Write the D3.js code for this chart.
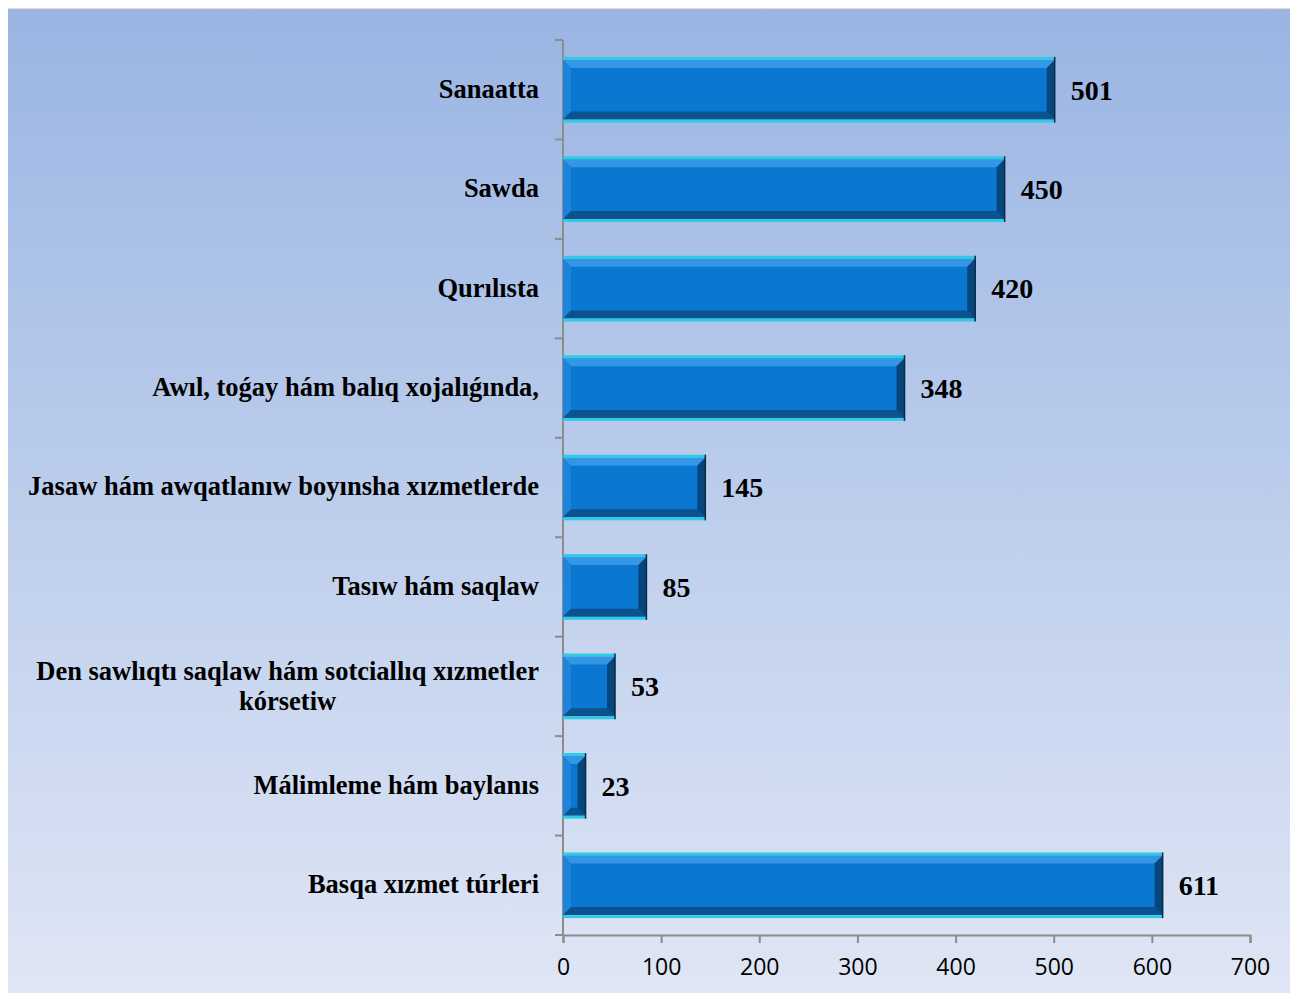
<!DOCTYPE html>
<html lang="en">
<head>
  <meta charset="utf-8">
  <title>Sectors</title>
  <script src="https://d3js.org/d3.v7.min.js"></script>
  <style>
    body { margin: 0; background: #fff; }
    .cat { font-family: "Liberation Serif", "Times New Roman", serif; font-weight: bold; font-size: 26.5px; fill: #000; }
    .val { font-family: "Liberation Serif", "Times New Roman", serif; font-weight: bold; font-size: 28px; fill: #000; }
    .tick text { font-family: "Open Sans", "DejaVu Sans", sans-serif; font-size: 23px; fill: #000; }
  </style>
</head>
<body>
  <svg width="1290" height="993"></svg>
  <script>
    var categories = [
      "Sanaatta",
      "Sawda",
      "Qurılısta",
      "Awıl, toǵay hám balıq xojalıǵında,",
      "Jasaw hám awqatlanıw boyınsha xızmetlerde",
      "Tasıw hám saqlaw",
      "Den sawlıqtı saqlaw hám sotciallıq xızmetler kórsetiw",
      "Málimleme hám baylanıs",
      "Basqa xızmet túrleri"
    ];
    var values = [501, 450, 420, 348, 145, 85, 53, 23, 611];
    var tickValues = [0, 100, 200, 300, 400, 500, 600, 700];

    var svg = d3.select("svg");
    var defs = svg.append("defs");

    var bg = defs.append("linearGradient").attr("id", "bg")
      .attr("x1", 0).attr("y1", 0).attr("x2", 0).attr("y2", 1);
    bg.append("stop").attr("offset", "0%").attr("stop-color", "#9ab5e3");
    bg.append("stop").attr("offset", "100%").attr("stop-color", "#dfe6f5");

    svg.append("rect").attr("x", 8).attr("y", 9).attr("width", 1282).attr("height", 984)
      .attr("fill", "url(#bg)");
    svg.append("line").attr("x1", 8).attr("x2", 1290).attr("y1", 9).attr("y2", 9)
      .attr("stroke", "#b0b8c8").attr("stroke-width", 1);

    var plotLeft = 563, plotRight = 1250, plotTop = 40, plotBottom = 935;

    var x = d3.scaleLinear().domain([0, 700]).range([plotLeft, plotRight]);
    var y = d3.scaleBand().domain(categories).range([plotTop, plotBottom]).paddingInner(0.4).paddingOuter(0.2);

    // category axis line and ticks between bands
    var step = (plotBottom - plotTop) / categories.length;
    svg.append("line").attr("x1", plotLeft).attr("x2", plotLeft).attr("y1", plotTop).attr("y2", plotBottom)
      .attr("stroke", "#8c8c8c").attr("stroke-width", 2);
    d3.range(categories.length + 1).forEach(function (i) {
      var yy = plotTop + i * step;
      svg.append("line").attr("x1", plotLeft - 8).attr("x2", plotLeft).attr("y1", yy).attr("y2", yy)
        .attr("stroke", "#8c8c8c").attr("stroke-width", 2);
    });

    // value axis
    var xAxis = svg.append("g")
      .attr("transform", "translate(0," + plotBottom + ")")
      .call(d3.axisBottom(x).tickValues(tickValues).tickSize(8).tickPadding(16).tickFormat(d3.format("d")));
    xAxis.select(".domain").attr("stroke", "#8c8c8c").attr("stroke-width", 2);
    xAxis.selectAll(".tick line").attr("stroke", "#8c8c8c").attr("stroke-width", 2);

    // bars with bevel
    var bh = y.bandwidth();
    var bev = 8;
    var bars = svg.append("g").selectAll("g").data(categories).enter().append("g")
      .attr("transform", function (d) { return "translate(" + plotLeft + "," + y(d) + ")"; });

    bars.each(function (d, i) {
      var g = d3.select(this);
      var w = x(values[i]) - plotLeft;
      var b = Math.min(bev, w / 2);
      g.append("rect").attr("width", w).attr("height", bh).attr("fill", "#0a78d0");
      // top bevel
      g.append("polygon").attr("points", [[0, 0], [w, 0], [w - b, b], [b, b]].join(" "))
        .attr("fill", "#3596e6");
      // left bevel
      g.append("polygon").attr("points", [[0, 0], [b, b], [b, bh - b], [0, bh]].join(" "))
        .attr("fill", "#1c84da");
      // bottom bevel
      g.append("polygon").attr("points", [[0, bh], [b, bh - b], [w - b, bh - b], [w, bh]].join(" "))
        .attr("fill", "#0b528f");
      // right bevel
      g.append("polygon").attr("points", [[w, 0], [w, bh], [w - b, bh - b], [w - b, b]].join(" "))
        .attr("fill", "#07467d");
      // cyan edges
      g.append("rect").attr("y", -3).attr("width", w).attr("height", 3).attr("fill", "#2fcbe6");
      g.append("rect").attr("y", bh).attr("width", w).attr("height", 3).attr("fill", "#2fcbe6");
      g.append("line").attr("x1", w).attr("x2", w).attr("y1", -3).attr("y2", bh + 3)
        .attr("stroke", "#0a2a45").attr("stroke-width", 1.5);
    });

    // value labels
    svg.append("g").selectAll("text").data(categories).enter().append("text")
      .attr("class", "val")
      .attr("x", function (d, i) { return x(values[i]) + 16; })
      .attr("y", function (d) { return y(d) + bh / 2; })
      .attr("dy", "0.35em")
      .text(function (d, i) { return values[i]; });

    // category labels, wrapping the long one
    var catLines = categories.map(function (c) {
      if (c.length > 45) return ["Den sawlıqtı saqlaw hám sotciallıq xızmetler", "kórsetiw"];
      return [c];
    });
    var cl = svg.append("g").selectAll("text").data(categories).enter().append("text")
      .attr("class", "cat")
      .attr("y", function (d) { return y(d) + bh / 2; });
    cl.each(function (d, i) {
      var lines = catLines[i];
      var t = d3.select(this);
      if (lines.length === 1) {
        t.append("tspan").attr("x", 539).attr("text-anchor", "end").attr("dy", "0.3em").text(lines[0]);
      } else {
        t.append("tspan").attr("x", 539).attr("text-anchor", "end").attr("dy", "-0.25em").text(lines[0]);
        var w0 = t.select("tspan").node().getComputedTextLength();
        t.append("tspan").attr("x", 539 - w0 / 2).attr("text-anchor", "middle").attr("dy", "1.15em").text(lines[1]);
      }
    });
  </script>
</body>
</html>
